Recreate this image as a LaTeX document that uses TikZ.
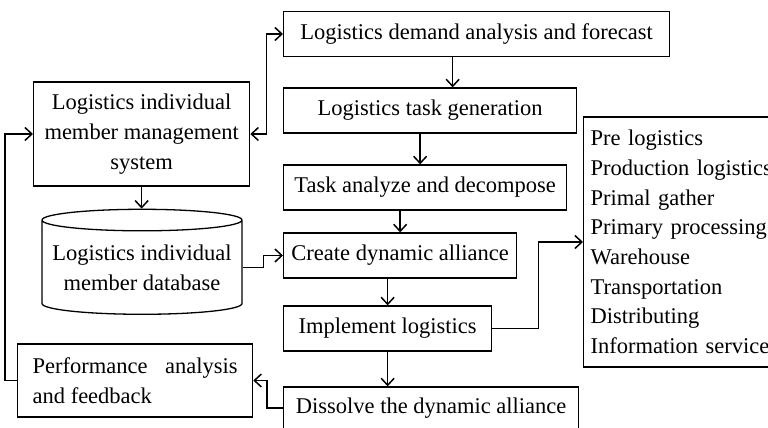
\documentclass[tikz,border=0pt]{standalone}
\usepackage{fontspec}
\setmainfont{Liberation Serif}
\usetikzlibrary{arrows.meta,shapes.geometric}
\tikzset{
  txt/.style={font=\fontsize{22.5pt}{29.7pt}\selectfont},
  box/.style={txt, draw, line width=1.3pt, minimum height=45pt, inner sep=0pt, anchor=west},
  arr/.style={line width=1.5pt, -{Straight Barb[length=7pt,width=13pt]}},
  dblarr/.style={line width=1.5pt, {Straight Barb[length=7pt,width=13pt]}-{Straight Barb[length=7pt,width=13pt]}},
}
\begin{document}
\begin{tikzpicture}[x=1pt,y=1pt]
		%%%%% START %%%%%
		\useasboundingbox (0,0) rectangle (768,428);
		
		% main column
		\node[box, minimum width=386pt] (demand) at (283,394) {Logistics demand analysis and forecast};
		\node[box, minimum width=293pt] (taskgen) at (283,317.5) {Logistics task generation};
		\node[box, minimum width=283pt] (analyze) at (283,240.5) {Task analyze and decompose};
		\node[box, minimum width=233pt] (create) at (283,172.5) {Create dynamic alliance};
		\node[box, minimum width=208pt] (impl) at (283,99.5) {Implement logistics};
		\node[box, minimum width=295pt, minimum height=42pt] (dissolve) at (283,20) {Dissolve the dynamic alliance};
		
		% left column
		\node[box, minimum width=216pt, minimum height=104pt, align=center] (mgmt) at (33,294) {Logistics individual\\member management\\system};
		\node[txt, draw, line width=1.3pt, shape=cylinder, shape border rotate=90, aspect=0.12,
		      minimum width=200pt, minimum height=105pt, inner sep=0pt, align=center] (db) at (142,160.5) {Logistics individual\\member database};
		\node[box, minimum width=235pt, minimum height=73pt, text width=205pt, align=justify] (perf) at (17,47.5) {Performance analysis and feedback};
		
		% right list
		\node[box, minimum width=200pt, minimum height=250pt, text width=186pt, inner xsep=7pt, align=left] (list) at (583,186)
		  {Pre logistics\\Production logistics\\Primal gather\\Primary processing\\Warehouse\\Transportation\\Distributing\\Information service};
		
		% flow
		\draw[arr] ([xshift=-24pt]demand.south) -- ([xshift=-24pt]demand.south |- taskgen.north);
		\draw[arr] ([xshift=-10pt]taskgen.south) -- ([xshift=-10pt]taskgen.south |- analyze.north);
		\draw[arr] (analyze.south -| create.north) -- (create.north);
		\draw[arr] (create.south -| impl.north) -- (impl.north);
		\draw[arr] (impl.south) -- (impl.south |- dissolve.north);
		
		\draw[dblarr] (mgmt.east) -- ++(16,0) |- (demand.west);
		\draw[arr] (mgmt.south) -- (mgmt.south |- db.north);
		\draw[arr] (db.east) -- ++(21,0) |- (create.west);
		\draw[arr] (impl.east) -- ++(46,0) |- (list.west);
		\draw[arr] (dissolve.west) -- ++(-16,0) |- (perf.east);
		\draw[arr] (perf.west) -- ++(-12,0) |- (mgmt.west);
		
		%%%%% END %%%%%
\end{tikzpicture}
\end{document}
